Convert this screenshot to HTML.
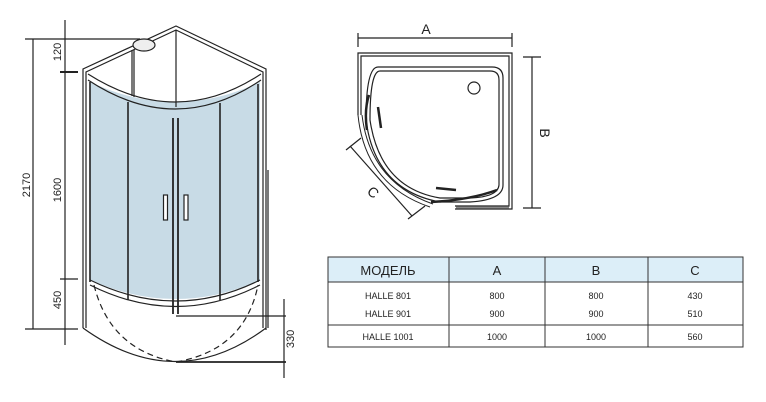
<!DOCTYPE html>
<html><head><meta charset="utf-8"><style>
html,body{margin:0;padding:0;background:#fff;width:766px;height:402px;overflow:hidden}
svg{display:block}
text{font-family:"Liberation Sans",sans-serif;fill:#222}
</style></head><body>
<svg width="766" height="402" viewBox="0 0 766 402" xmlns="http://www.w3.org/2000/svg">
<g stroke="#222" fill="none" stroke-width="1.2">
<!-- glass -->
<path d="M90,82 Q176,122 260,82 L260,280 Q176,318 90,280 Z" fill="#c8dbe6" stroke="none"/>
<!-- outer frame -->
<path d="M83,328 L83,69 L176,26 L266,69 L266,330"/>
<path d="M86,328 L86,72 L176,30 L263,72 L263,328"/>
<path d="M88,74 Q176,130 261,74"/>
<path d="M88,80 Q176,138 261,80"/>
<line x1="176" y1="30" x2="176" y2="107"/>
<line x1="132" y1="50" x2="132" y2="96"/>
<line x1="134" y1="50" x2="134" y2="97"/>
<!-- glass edges -->
<path d="M90,280 Q176,322 260,280"/>
<path d="M90,285 Q176,328 260,285"/>
<line x1="90" y1="82" x2="90" y2="282" stroke-width="1.6"/>
<line x1="258" y1="84" x2="258" y2="282" stroke-width="1.6"/>
<line x1="128" y1="102" x2="128" y2="300" stroke-width="1.6"/>
<line x1="173" y1="118" x2="173" y2="314" stroke-width="1.8"/>
<line x1="178" y1="118" x2="178" y2="314" stroke-width="1.8"/>
<line x1="220" y1="103" x2="220" y2="300" stroke-width="1.6"/>
<rect x="163.5" y="195" width="4" height="25" fill="#fff"/>
<rect x="184" y="195" width="4" height="25" fill="#fff"/>
<!-- base -->
<path d="M83,328 Q176,395 266,328"/>
<path d="M94,285 Q110,350 176,362 Q245,350 258,285" stroke-dasharray="6,4"/>
<line x1="268" y1="170" x2="268" y2="328"/>
<!-- showerhead -->
<ellipse cx="144" cy="45" rx="11" ry="6" fill="#eee"/>
<!-- dims -->
<line x1="25" y1="39" x2="140" y2="39"/>
<line x1="33" y1="39" x2="33" y2="329"/>
<line x1="25" y1="329" x2="78" y2="329"/>
<line x1="65" y1="20" x2="65" y2="345"/>
<line x1="60" y1="72" x2="78" y2="72" stroke-width="2"/>
<line x1="60" y1="279" x2="78" y2="279"/>
<line x1="284" y1="299" x2="284" y2="378"/>
<line x1="176" y1="316" x2="286" y2="316"/>
<line x1="176" y1="362" x2="286" y2="362" stroke-width="1.8"/>
</g>
<g font-size="11">
<text transform="translate(30,185) rotate(-90)" text-anchor="middle">2170</text>
<text transform="translate(61,52) rotate(-90)" text-anchor="middle">120</text>
<text transform="translate(61,190) rotate(-90)" text-anchor="middle">1600</text>
<text transform="translate(61,300) rotate(-90)" text-anchor="middle">450</text>
<text transform="translate(294,339) rotate(-90)" text-anchor="middle">330</text>
</g>
<!-- plan -->
<g stroke="#222" fill="none" stroke-width="1.2">
<line x1="358" y1="38" x2="512" y2="38"/>
<line x1="358" y1="33" x2="358" y2="47"/>
<line x1="512" y1="33" x2="512" y2="47"/>
<path d="M358,115 L358,53 L512,53 L512,209 L455,209"/>
<path d="M361,115 L361,56 L509,56 L509,206 L455,206"/>
<line x1="456" y1="207.5" x2="509" y2="207.5" stroke="#888" stroke-width="2"/>
<path d="M378,67 L492,67 Q503,67 503,78 L503,185 Q503,200 470,202 L440,202 Q375,190 366,120 Q366,67 378,67 Z"/>
<path d="M380,71 L490,71 Q499,71 499,80 L499,185 Q498,197 470,198 L440,198 Q380,188 370,120 Q370,71 380,71 Z"/>
<path d="M358,115 Q365,185 430,207" stroke-width="1"/>
<path d="M362,115 Q370,182 433,204" stroke-width="1"/>
<path d="M369,95 Q364,110 367,130" stroke-width="2.5"/>
<path d="M431,202 Q470,200 497,190" stroke-width="2.5"/>
<line x1="378" y1="107" x2="381" y2="128" stroke-width="2.5"/>
<line x1="456" y1="190" x2="436" y2="188" stroke-width="2.5"/>
<circle cx="474" cy="88" r="6"/>
<line x1="532" y1="57" x2="532" y2="208"/>
<line x1="523" y1="57" x2="541" y2="57"/>
<line x1="523" y1="208" x2="541" y2="208"/>
<line x1="350" y1="146" x2="412" y2="216"/>
<line x1="346" y1="150" x2="361" y2="138"/>
<line x1="408" y1="219" x2="425" y2="206"/>
</g>
<text x="426" y="34" font-size="14" text-anchor="middle">A</text>
<text transform="translate(540,133) rotate(90)" font-size="14" text-anchor="middle">B</text>
<text transform="translate(370,196) rotate(40)" font-size="14" text-anchor="middle">C</text>
<!-- table -->
<rect x="328" y="257" width="415" height="25" fill="#dceef8"/>
<g stroke="#333" fill="none" stroke-width="1">
<rect x="328" y="257" width="415" height="90"/>
<line x1="328" y1="282" x2="743" y2="282"/>
<line x1="328" y1="325" x2="743" y2="325"/>
<line x1="449" y1="257" x2="449" y2="347"/>
<line x1="545" y1="257" x2="545" y2="347"/>
<line x1="648" y1="257" x2="648" y2="347"/>
</g>
<g font-size="13" text-anchor="middle">
<text x="388" y="275">МОДЕЛЬ</text><text x="497" y="275">A</text><text x="596" y="275">B</text><text x="695" y="275">C</text>
</g>
<g font-size="9" text-anchor="middle">
<text x="388" y="299">HALLE 801</text><text x="497" y="299">800</text><text x="596" y="299">800</text><text x="695" y="299">430</text>
<text x="388" y="317">HALLE 901</text><text x="497" y="317">900</text><text x="596" y="317">900</text><text x="695" y="317">510</text>
<text x="388" y="340">HALLE 1001</text><text x="497" y="340">1000</text><text x="596" y="340">1000</text><text x="695" y="340">560</text>
</g>
</svg>
</body></html>
